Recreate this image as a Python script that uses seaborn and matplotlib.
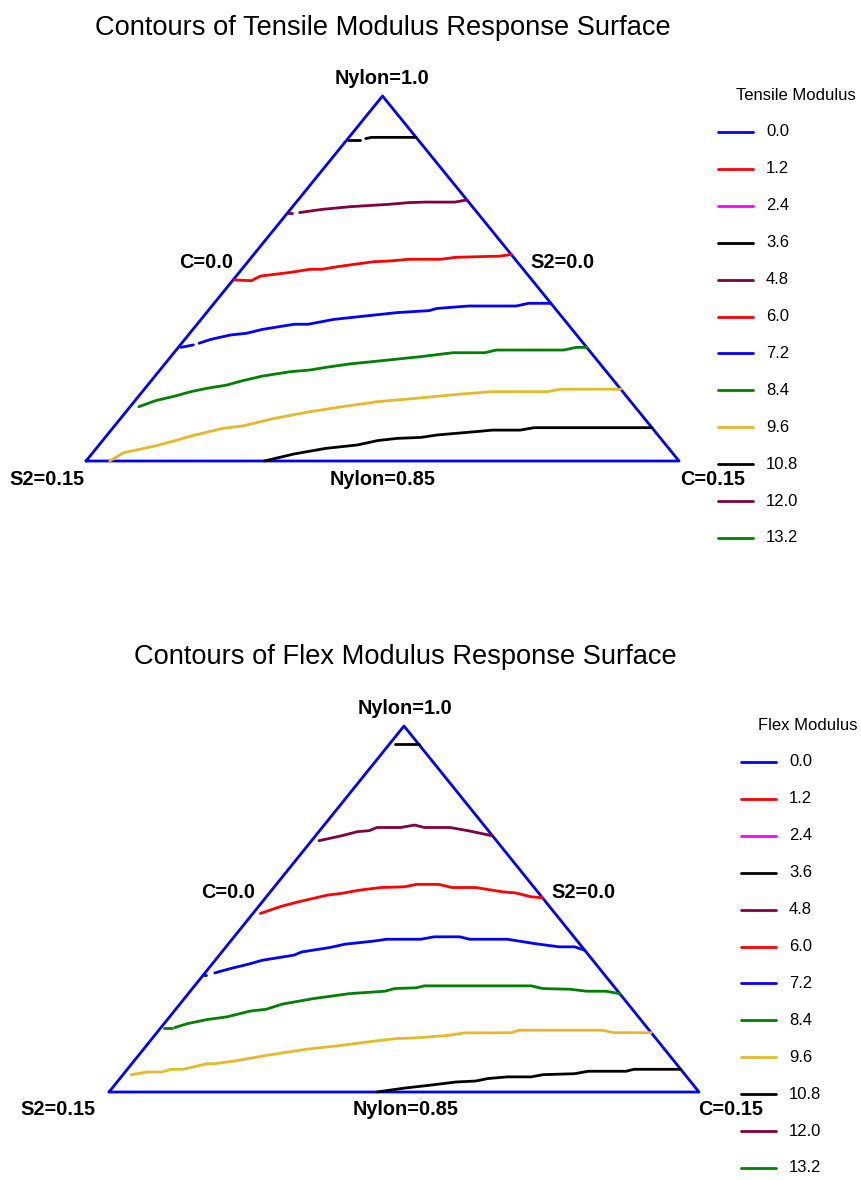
import matplotlib
matplotlib.use("Agg")
import numpy as np
import pandas as pd
import matplotlib.pyplot as plt
import seaborn as sns

# contour levels shown in the legends, and their line colours
levels = [0.0, 1.2, 2.4, 3.6, 4.8, 6.0, 7.2, 8.4, 9.6, 10.8, 12.0, 13.2]
level_colors = ["#0000FF", "#FF0000", "#FF00FF", "#000000", "#800040", "#FF0000",
                "#0000FF", "#008000", "#E5B929", "#000000", "#800040", "#008000"]

# contour lines: (Nylon %, C %) points, S2 = 100 - Nylon - C
# each contour is a list of segments (gaps in the original are kept)
tensile_3_6 = [[(98.19, 0.04), (98.19, 0.33)],
               [(98.25, 0.45), (98.30, 0.57), (98.30, 1.70)]]
tensile_4_8 = [[(95.21, 0.00), (95.21, 0.10)],
               [(95.21, 0.30), (95.34, 0.80), (95.45, 1.45), (95.55, 2.40), (95.62, 2.87),
                (95.64, 3.26), (95.64, 4.01), (95.73, 4.27)]]
tensile_6_0 = [[(92.44, 0.04), (92.41, 0.48), (92.60, 0.61), (92.75, 1.29), (92.88, 1.73),
                (92.88, 2.03), (92.99, 2.38), (93.10, 2.82), (93.19, 3.18), (93.22, 3.57),
                (93.29, 4.03), (93.29, 4.84), (93.37, 5.15), (93.42, 6.27), (93.49, 6.51)]]
tensile_7_2 = [[(89.67, 0.07), (89.77, 0.33)],
               [(89.84, 0.44), (90.00, 0.66), (90.18, 1.07), (90.25, 1.44), (90.41, 1.76),
                (90.62, 2.46), (90.62, 2.81), (90.82, 3.36), (90.96, 4.09), (91.10, 4.83),
                (91.18, 5.59), (91.27, 5.74), (91.37, 6.50), (91.37, 7.70), (91.48, 7.95),
                (91.48, 8.52)]]
tensile_8_4 = [[(87.23, 0.22), (87.48, 0.52), (87.67, 0.92), (87.85, 1.23), (87.99, 1.57),
                (88.12, 2.00), (88.30, 2.31), (88.49, 2.72), (88.67, 3.33), (88.74, 3.80),
                (88.85, 4.15), (88.99, 4.68), (89.12, 5.41), (89.29, 6.33), (89.45, 7.05),
                (89.45, 7.86), (89.56, 8.10), (89.56, 9.81), (89.67, 10.06), (89.67, 10.33)]]
tensile_9_6 = [[(85.00, 0.60), (85.34, 0.78), (85.48, 1.11), (85.62, 1.45), (85.84, 1.84),
                (86.03, 2.15), (86.34, 2.79), (86.44, 3.24), (86.75, 3.89), (87.03, 4.66),
                (87.23, 5.36), (87.44, 6.16), (87.58, 7.09), (87.75, 8.10), (87.85, 8.86),
                (87.85, 10.26), (87.95, 10.52), (87.95, 12.05)]]
tensile_10_8 = [[(85.00, 4.51), (85.29, 5.12), (85.52, 5.81), (85.66, 6.54), (85.84, 6.96),
                 (85.93, 7.41), (85.97, 7.99), (86.07, 8.35), (86.21, 9.28), (86.27, 9.65),
                 (86.27, 10.35), (86.37, 10.65), (86.37, 13.63)]]

flex_3_6 = [[(99.25, 0.14), (99.25, 0.75)]]
flex_4_8 = [[(95.30, 0.19), (95.50, 0.66), (95.67, 0.98), (95.71, 1.26), (95.84, 1.39),
             (95.84, 1.99), (95.94, 2.30), (95.84, 2.60), (95.84, 3.25), (95.71, 3.77),
             (95.50, 4.50)]]
flex_6_0 = [[(92.32, 0.19), (92.62, 0.59), (92.79, 0.91), (93.07, 1.52), (93.14, 1.84),
             (93.27, 2.22), (93.38, 2.72), (93.41, 3.31), (93.51, 3.56), (93.51, 4.12),
             (93.38, 4.53), (93.38, 5.13), (93.20, 5.92), (93.16, 6.25), (93.00, 6.73),
             (92.96, 7.04)]]
flex_7_2 = [[(89.79, 0.00), (89.79, 0.08)],
            [(89.88, 0.25), (90.06, 0.56), (90.24, 0.93), (90.40, 1.20), (90.61, 1.90),
             (90.74, 2.03), (90.92, 2.65), (91.06, 2.98), (91.18, 3.62), (91.26, 3.93),
             (91.26, 4.79), (91.36, 5.09), (91.36, 5.74), (91.26, 6.04), (91.26, 7.00),
             (91.08, 7.79), (90.95, 8.46), (90.95, 8.86), (90.81, 9.19)]]
flex_8_4 = [[(87.64, 0.07), (87.64, 0.27)],
            [(87.64, 0.35), (87.80, 0.59), (87.97, 1.01), (88.08, 1.46), (88.32, 1.94),
             (88.39, 2.30), (88.60, 2.60), (88.83, 3.29), (89.03, 4.09), (89.13, 4.95),
             (89.24, 5.14), (89.27, 5.68), (89.35, 5.84), (89.35, 8.56), (89.24, 8.91),
             (89.21, 9.63), (89.13, 10.07), (89.13, 10.57), (89.03, 10.97)]]
flex_9_6 = [[(85.71, 0.21), (85.82, 0.57), (85.82, 0.93), (85.93, 1.12), (85.93, 1.42),
             (86.16, 1.91), (86.16, 2.11), (86.27, 2.56), (86.50, 3.25), (86.75, 4.13),
             (86.89, 4.86), (87.08, 5.67), (87.19, 6.22), (87.22, 6.71), (87.32, 7.46),
             (87.42, 7.81), (87.43, 9.01), (87.53, 9.16), (87.53, 11.27), (87.43, 11.62),
             (87.43, 12.57)]]
flex_10_8 = [[(85.00, 6.81), (85.16, 7.43), (85.27, 7.98), (85.41, 8.62), (85.45, 9.10),
              (85.55, 9.35), (85.62, 9.82), (85.62, 10.42), (85.71, 10.68), (85.75, 11.46),
              (85.85, 11.76), (85.85, 12.72), (85.93, 12.88), (85.93, 14.07)]]

shown_levels = [3.6, 4.8, 6.0, 7.2, 8.4, 9.6, 10.8]
tensile_lines = [tensile_3_6, tensile_4_8, tensile_6_0, tensile_7_2, tensile_8_4,
                 tensile_9_6, tensile_10_8]
flex_lines = [flex_3_6, flex_4_8, flex_6_0, flex_7_2, flex_8_4, flex_9_6, flex_10_8]

vertex_labels = ["Nylon=1.0", "C=0.0", "S2=0.0", "S2=0.15", "Nylon=0.85", "C=0.15"]

sns.set_style("white")
plt.rcParams["font.family"] = ["Liberation Sans", "DejaVu Sans"]
plt.rcParams["text.color"] = "black"

W, H = 861, 1180
fig = plt.figure(figsize=(W / 100, H / 100), dpi=100)

# overlay in pixel units for titles and legends
over = fig.add_axes([0, 0, 1, 1])
over.set_xlim(0, W)
over.set_ylim(H, 0)
over.axis("off")


def to_xy(nylon, c):
    # pseudo components -> triangle coordinates (S2 vertex left, C right, Nylon top)
    n = (np.asarray(nylon) - 85.0) / 15.0
    cc = np.asarray(c) / 15.0
    return cc + 0.5 * n, n


def draw_panel(rect, lines, label_pos):
    ax = fig.add_axes(rect)
    ax.set_xlim(0, 1)
    ax.set_ylim(0, 1)
    ax.axis("off")
    # triangle frame
    frame = pd.DataFrame({"x": [0, 1, 0.5, 0], "y": [0, 0, 1, 0]})
    sns.lineplot(data=frame, x="x", y="y", sort=False, estimator=None, color="#0000FF",
                 lw=2.0, ax=ax, clip_on=False)
    for lev, segs in zip(shown_levels, lines):
        col = level_colors[levels.index(lev)]
        for seg in segs:
            df = pd.DataFrame(seg, columns=["nylon", "c"])
            df["x"], df["y"] = to_xy(df["nylon"], df["c"])
            sns.lineplot(data=df, x="x", y="y", sort=False, estimator=None, color=col,
                         lw=2.0, ax=ax, clip_on=False)
    for lab, (lx, ly) in zip(vertex_labels, label_pos):
        ax.text(lx, ly, lab, ha="center", va="center", fontsize=14.3, fontweight="bold",
                transform=ax.transAxes, clip_on=False)
    ax.set_xlabel("")
    ax.set_ylabel("")
    return ax


def draw_legend(title, tx, ty, lx0, lx1, y0, dy):
    over.text(tx, ty, title, ha="center", va="center", fontsize=12)
    for i, (lev, col) in enumerate(zip(levels, level_colors)):
        y = y0 + i * dy
        over.plot([lx0, lx1], [y, y], color=col, lw=2.0)
        over.text(lx1 + 13, y, f"{lev:.1f}", ha="left", va="center", fontsize=12)


# top panel: Tensile Modulus
draw_panel([86 / W, 1 - 461 / H, 593 / W, 365 / H], tensile_lines,
           [(0.5, 1.049), (0.202, 0.545), (0.804, 0.545),
            (-0.066, -0.052), (0.5, -0.052), (1.056, -0.052)])
over.text(383, 28, "Contours of Tensile Modulus Response Surface", ha="center",
          va="center", fontsize=19.6)
draw_legend("Tensile Modulus", 796, 96, 718, 753, 132, 36.9)

# bottom panel: Flex Modulus
draw_panel([109 / W, 1 - 1092 / H, 590 / W, 366 / H], flex_lines,
           [(0.502, 1.049), (0.202, 0.546), (0.805, 0.546),
            (-0.086, -0.049), (0.502, -0.049), (1.054, -0.049)])
over.text(405, 657, "Contours of Flex Modulus Response Surface", ha="center",
          va="center", fontsize=19.6)
draw_legend("Flex Modulus", 808, 725, 741, 776, 762, 36.9)

fig.savefig("out.png", dpi=100)
